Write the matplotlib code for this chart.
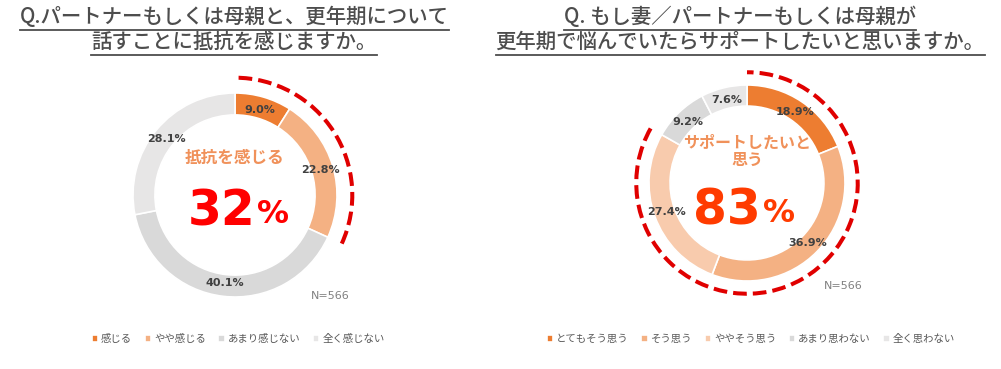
import matplotlib
matplotlib.use("Agg")
import matplotlib.pyplot as plt
from matplotlib.patches import Arc
from matplotlib.lines import Line2D

plt.rcParams['font.family'] = ['Noto Sans CJK JP', 'DejaVu Sans']

# data
left_title = ["Q.パートナーもしくは母親と、更年期について", "話すことに抵抗を感じますか。"]
left_labels = ["感じる", "やや感じる", "あまり感じない", "全く感じない"]
left_values = [9.0, 22.8, 40.1, 28.1]
left_colors = ["#ED7D31", "#F4B183", "#D9D9D9", "#E7E6E6"]
left_center = "抵抗を感じる"
left_big = "32"

right_title = ["Q. もし妻／パートナーもしくは母親が", "更年期で悩んでいたらサポートしたいと思いますか。"]
right_labels = ["とてもそう思う", "そう思う", "ややそう思う", "あまり思わない", "全く思わない"]
right_values = [18.9, 36.9, 27.4, 9.2, 7.6]
right_colors = ["#ED7D31", "#F4B183", "#F8CBAD", "#D9D9D9", "#E7E6E6"]
right_center = "サポートしたいと\n思う"
right_big = "83"

n_text = "N=566"

W, H = 1001, 369
fig = plt.figure(figsize=(W / 100, H / 100), dpi=100)


def donut(cx, cy, r, values, colors, labels, hl_n, arc_r, center_txt, center_y, center_fs,
          big, big_color, big_y, big_x, n_xy, leg_x):
    half = 1.3 * r
    ax = fig.add_axes([(cx - half) / W, (H - cy - half) / H, 2 * half / W, 2 * half / H])
    wedges, _, autotexts = ax.pie(values, colors=colors, startangle=90, counterclock=False,
                                  radius=1, autopct='%1.1f%%', pctdistance=0.87,
                                  wedgeprops=dict(width=0.215, edgecolor='white', linewidth=1.2),
                                  textprops=dict(fontsize=8, color='#404040', fontweight='bold',
                                                 family=['DejaVu Sans']))
    ax.set_xlim(-1.3, 1.3)
    ax.set_ylim(-1.3, 1.3)
    ax.set_aspect('equal')
    ax.axis('off')
    share = sum(values[:hl_n])
    ax.add_patch(Arc((0, 0), 2 * arc_r, 2 * arc_r, theta1=90 - 3.6 * share, theta2=90,
                     color='#E00000', lw=2.9, linestyle=(0, (3.4, 1.5))))
    ax.text(0, center_y, center_txt, ha='center', va='center', fontsize=center_fs,
            fontweight='bold', color='#F0915A', linespacing=1.05)
    ax.text(big_x, big_y, big, ha='right', va='center', fontsize=35, fontweight='bold',
            color=big_color, family=['DejaVu Sans'])
    ax.text(big_x + 0.02, big_y - 0.03, '%', ha='left', va='center', fontsize=23,
            fontweight='bold', color=big_color, family=['DejaVu Sans'])
    fig.text(n_xy[0] / W, 1 - n_xy[1] / H, n_text, ha='center', va='center',
             fontsize=8, color='#808080', family=['DejaVu Sans'])
    fig.legend(wedges, labels, loc='center', bbox_to_anchor=(leg_x / W, 1 - 339 / H),
               ncol=len(labels), frameon=False, fontsize=7.5, handlelength=0.6,
               handleheight=0.6, handletextpad=0.3, columnspacing=1.2,
               labelcolor='#595959')


donut(235, 195, 102, left_values, left_colors, left_labels, 2, 1.15,
      left_center, 0.36, 12, left_big, '#FF0000', -0.16, 0.2, (330, 296), 238)
donut(747, 183, 98, right_values, right_colors, right_labels, 3, 1.13,
      right_center, 0.32, 11.5, right_big, '#FF3B00', -0.28, 0.14, (843, 286), 751)


def title(lines, cx):
    ys = [17, 42]
    for line, y in zip(lines, ys):
        t = fig.text(cx / W, 1 - y / H, line, ha='center', va='center', fontsize=14.7,
                     fontweight='medium', color='#4D4D4D')
        fig.canvas.draw()
        bb = t.get_window_extent()
        yl = bb.y0 - 1.5
        fig.add_artist(Line2D([bb.x0 / W, bb.x1 / W], [yl / H, yl / H],
                              color='#4D4D4D', lw=1.3))


title(left_title, 234)
title(right_title, 740)

fig.savefig('out.png', dpi=100, facecolor='white')
